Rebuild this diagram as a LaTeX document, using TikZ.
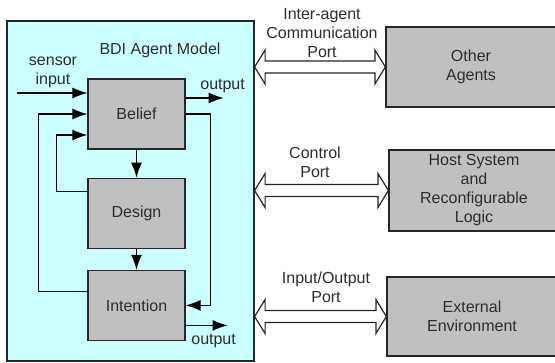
\documentclass[tikz,border=0pt]{standalone}
\usepackage{fontspec}
\setmainfont{Liberation Sans}
\usepackage{xcolor}
\usepackage{tikz}
\usetikzlibrary{positioning, calc, arrows.meta}
\definecolor{agentcyan}{RGB}{204,255,255}
\definecolor{boxgray}{RGB}{192,192,192}
\definecolor{textgray}{RGB}{45,45,45}
% double headed port arrow between two points on one line
\newcommand{\portarrow}[2]{%
  \draw[port] (#1) -- ++(10.5,-17) -- ++(0,11) -- ($(#2)+(-10.5,-6)$) -- ++(0,-11) -- (#2)
    -- ++(-10.5,17) -- ++(0,-11) -- ($(#1)+(10.5,6)$) -- ++(0,11) -- cycle;}

\begin{document}
\begin{tikzpicture}[x=1pt, y=-1pt,
    every node/.style={font=\fontsize{16}{19}\selectfont, text=textgray},
    block/.style={draw=black!85, line width=1.2pt, fill=boxgray, minimum width=97pt, minimum height=70pt, align=center},
    lbl/.style={align=center, inner sep=0pt},
    flow/.style={-{Latex[length=15pt,width=11pt]}, line width=1.2pt},
    port/.style={draw=black!85, fill=white, line width=1.2pt}]
			\useasboundingbox (0,0) rectangle (555,362);
			
			\node[draw=black!85, fill=agentcyan, line width=1.2pt, minimum width=247pt, minimum height=340pt](bdi) at (130.5,191) {};
			\node[lbl](title) at (160,50) {BDI Agent Model};
			
			\node[block](belief) at (136.5,114) {Belief};
			\node[block, below=28pt of belief](design) {Design};
			\node[block, below=21pt of design](intention) {Intention};
			
			\node[lbl](sensl) at (53,72) {sensor\\input};
			\draw[flow] ($(belief.west)+(-70,-21)$) -- ($(belief.west)+(0,-21)$);
			\draw[flow] ($(belief.east)+(0,-16)$) -- ++(38,0) coordinate (bout);
			\node[lbl, above=5pt of bout, xshift=-1pt](boutl) {output};
			
			\draw[flow] (belief) -- (design);
			\draw[flow] (design) -- (intention);
			\draw[flow] (belief.east) -- ++(25,0) |- (intention.east);
			\draw[flow] ($(design.west)+(0,-22)$) -- ++(-31,0) |- ($(belief.west)+(0,21)$);
			\draw[flow] ($(intention.west)+(0,-14)$) -- ++(-49,0) |- (belief.west);
			
			\draw[flow] ($(intention.east)+(0,20)$) -- ++(42,0) coordinate (iout);
			\node[lbl, below=9pt of iout, xshift=-14pt](ioutl) {output};
			
			\node[block, minimum width=170pt, minimum height=80pt](agents) at (471,67) {Other\\Agents};
			\node[block, minimum width=170pt, minimum height=81pt](host) at (474,190.5) {Host System\\and\\Reconfigurable\\Logic};
			\node[block, minimum width=170pt, minimum height=79pt](env) at (472,316.5) {External\\Environment};
			
			%% ports between the agent model and the outside
			\coordinate (pa) at (bdi.east |- agents.west);
			\coordinate (ph) at (bdi.east |- host.west);
			\coordinate (pe) at (bdi.east |- env.west);
			\portarrow{pa}{agents.west}
			\portarrow{ph}{host.west}
			\portarrow{pe}{env.west}
			
			\node[lbl](iacl) at (322,33) {Inter-agent\\Communication\\Port};
			\node[lbl](ctll) at (315,162.5) {Control\\Port};
			\node[lbl](iol) at (326,287.5) {Input/Output\\Port};
			
			\end{tikzpicture}
\end{document}
